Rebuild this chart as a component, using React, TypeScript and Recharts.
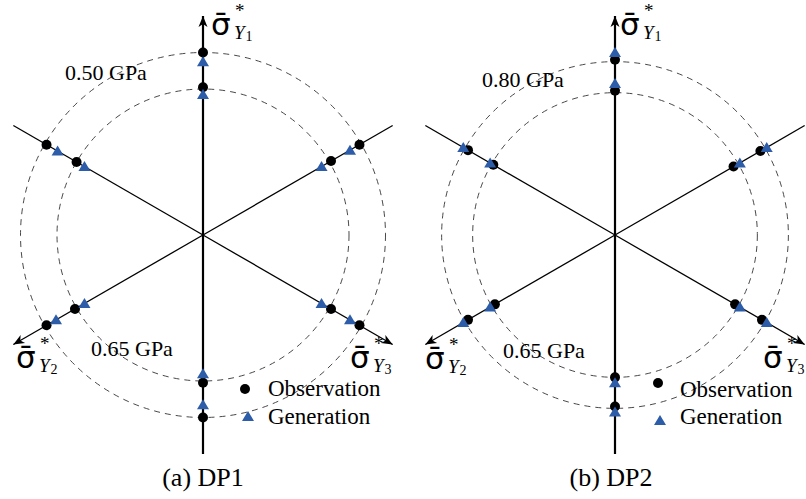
import React from 'react';
import { RadarChart, Radar, PolarGrid, PolarAngleAxis, PolarRadiusAxis } from 'recharts';

// Directions of the pi-plane diagram, clockwise from the top
const DIRECTIONS = ['+Y1', 'Y1-Y2', '+Y3', '-Y1', '+Y2', 'Y1-Y3'];
const ANGLES = [90, 30, -30, -90, -150, 150];
const ARROW_DIRS = [true, false, true, false, true, false];
const AXIS_MAX = 1.2;

// Panel (a) DP1
const A_CIRCLES = [0.8, 1.0];
const A_OBS_OUTER = [1.0, 0.99, 0.99, 1.0, 0.99, 0.99];
const A_OBS_INNER = [0.81, 0.81, 0.81, 0.81, 0.81, 0.8];
const A_GEN_OUTER = [0.95, 0.93, 0.93, 0.93, 0.93, 0.92];
const A_GEN_INNER = [0.77, 0.75, 0.75, 0.76, 0.75, 0.75];

// Panel (b) DP2
const B_CIRCLES = [0.78, 0.95];
const B_OBS_OUTER = [0.96, 0.92, 0.93, 0.94, 0.93, 0.93];
const B_OBS_INNER = [0.79, 0.75, 0.76, 0.78, 0.76, 0.77];
const B_GEN_OUTER = [1.0, 0.96, 0.96, 0.97, 0.96, 0.96];
const B_GEN_INNER = [0.83, 0.79, 0.79, 0.81, 0.79, 0.79];

const CIRCLE_LABELS_A = ['0.50 GPa', '0.65 GPa'];
const CIRCLE_LABELS_B = ['0.80 GPa', '0.65 GPa'];
const CAPTIONS = ['(a) DP1', '(b) DP2'];
const LEGEND = ['Observation', 'Generation'];

const W = 403;
const H = 499;
const CY = 235;
const OUTER = 219;
const BLUE = '#2d5ca8';
const SERIF = '"Liberation Serif", "Times New Roman", serif';

function buildRows(obsOuter: number[], obsInner: number[], genOuter: number[], genInner: number[]) {
  return DIRECTIONS.map((dir, i) => ({
    dir,
    angle: ANGLES[i],
    arrow: ARROW_DIRS[i],
    axisEnd: AXIS_MAX,
    obsOuter: obsOuter[i],
    obsInner: obsInner[i],
    genOuter: genOuter[i],
    genInner: genInner[i],
  }));
}

const DATA_A = buildRows(A_OBS_OUTER, A_OBS_INNER, A_GEN_OUTER, A_GEN_INNER);
const DATA_B = buildRows(B_OBS_OUTER, B_OBS_INNER, B_GEN_OUTER, B_GEN_INNER);

const renderObs = (p: any) => (
  <circle key={`o-${p.dataKey}-${p.index}`} cx={p.cx} cy={p.cy} r={5} fill="#000" />
);

const renderGen = (p: any) => (
  <polygon
    key={`g-${p.dataKey}-${p.index}`}
    points={`${p.cx},${p.cy - 5.5} ${p.cx - 6},${p.cy + 4.5} ${p.cx + 6},${p.cy + 4.5}`}
    fill={BLUE}
  />
);

const makeAxisEnd = () => (p: any) => {
  const i = p.index;
  const ang = ANGLES[i];
  const x = p.cx;
  const y = p.cy;
  const vertical = ang === 90 || ang === -90;
  return (
    <g key={`ax-${i}`}>
      {vertical && <line x1={x} y1={y} x2={x} y2={CY} stroke="#000" strokeWidth={2.2} />}
      {ARROW_DIRS[i] && (
        <polygon
          points="0,0 -11,-4.5 -8,0 -11,4.5"
          fill="#000"
          transform={`translate(${x},${y}) rotate(${-ang})`}
        />
      )}
    </g>
  );
};

function Panel({ left, cx, data, circles }: { left: number; cx: number; data: any[]; circles: number[] }) {
  return (
    <div style={{ position: 'absolute', left, top: 0 }}>
      <RadarChart
        width={W}
        height={H}
        cx={cx}
        cy={CY}
        outerRadius={OUTER}
        startAngle={90}
        endAngle={-270}
        data={data}
        margin={{ top: 0, right: 0, bottom: 0, left: 0 }}
      >
        <PolarGrid gridType="circle" radialLines={false} stroke="#333" strokeWidth={0.9} strokeDasharray="6 5" />
        <PolarGrid gridType="circle" polarRadius={[]} radialLines stroke="#000" strokeWidth={1.3} strokeDasharray="" />
        <PolarAngleAxis dataKey="dir" tick={false} axisLine={false} />
        <PolarRadiusAxis type="number" domain={[0, AXIS_MAX]} ticks={circles} tick={false} axisLine={false} />
        <Radar dataKey="axisEnd" stroke="none" fill="none" dot={makeAxisEnd()} isAnimationActive={false} />
        <Radar dataKey="obsOuter" stroke="none" fill="none" dot={renderObs} isAnimationActive={false} />
        <Radar dataKey="obsInner" stroke="none" fill="none" dot={renderObs} isAnimationActive={false} />
        <Radar dataKey="genOuter" stroke="none" fill="none" dot={renderGen} isAnimationActive={false} />
        <Radar dataKey="genInner" stroke="none" fill="none" dot={renderGen} isAnimationActive={false} />
      </RadarChart>
    </div>
  );
}

function SigmaLabel({ x, y, sub }: { x: number; y: number; sub: string }) {
  return (
    <text x={x} y={y} fontFamily='"DejaVu Sans", sans-serif' fontSize={31} fill="#000">
      σ̄
      <tspan x={x + 24} y={y - 18} fontFamily={SERIF} fontSize={19}>*</tspan>
      <tspan x={x + 23} y={y + 4} fontFamily={SERIF} fontStyle="italic" fontSize={19}>Y</tspan>
      <tspan dx={1} dy={2} fontFamily={SERIF} fontSize={14}>{sub}</tspan>
    </text>
  );
}

function Overlay() {
  return (
    <svg width={806} height={499} style={{ position: 'absolute', left: 0, top: 0, pointerEvents: 'none' }}>
      <SigmaLabel x={211} y={35} sub="1" />
      <SigmaLabel x={16} y={368} sub="2" />
      <SigmaLabel x={350} y={368} sub="3" />
      <SigmaLabel x={620} y={35} sub="1" />
      <SigmaLabel x={425} y={369} sub="2" />
      <SigmaLabel x={763} y={368} sub="3" />

      <text x={65} y={80} fontFamily={SERIF} fontSize={22}>{CIRCLE_LABELS_A[0]}</text>
      <text x={91} y={356} fontFamily={SERIF} fontSize={22}>{CIRCLE_LABELS_A[1]}</text>
      <text x={482} y={87} fontFamily={SERIF} fontSize={22}>{CIRCLE_LABELS_B[0]}</text>
      <text x={503} y={358} fontFamily={SERIF} fontSize={22}>{CIRCLE_LABELS_B[1]}</text>

      <circle cx={245} cy={389} r={5} fill="#000" />
      <text x={268} y={396} fontFamily={SERIF} fontSize={23}>{LEGEND[0]}</text>
      <polygon points="248,411 242,421 254,421" fill={BLUE} />
      <text x={268} y={424} fontFamily={SERIF} fontSize={23}>{LEGEND[1]}</text>

      <circle cx={658} cy={383} r={5} fill="#000" />
      <text x={680} y={397} fontFamily={SERIF} fontSize={23}>{LEGEND[0]}</text>
      <polygon points="660,415 654,425 666,425" fill={BLUE} />
      <text x={680} y={424} fontFamily={SERIF} fontSize={23}>{LEGEND[1]}</text>

      <text x={203} y={486} textAnchor="middle" fontFamily={SERIF} fontSize={26}>{CAPTIONS[0]}</text>
      <text x={611} y={486} textAnchor="middle" fontFamily={SERIF} fontSize={26}>{CAPTIONS[1]}</text>
    </svg>
  );
}

export default function App() {
  return (
    <div style={{ position: 'absolute', left: 0, top: 0, width: 806, height: 499, background: '#fff' }}>
      <Panel left={0} cx={203} data={DATA_A} circles={A_CIRCLES} />
      <Panel left={403} cx={212} data={DATA_B} circles={B_CIRCLES} />
      <Overlay />
    </div>
  );
}
